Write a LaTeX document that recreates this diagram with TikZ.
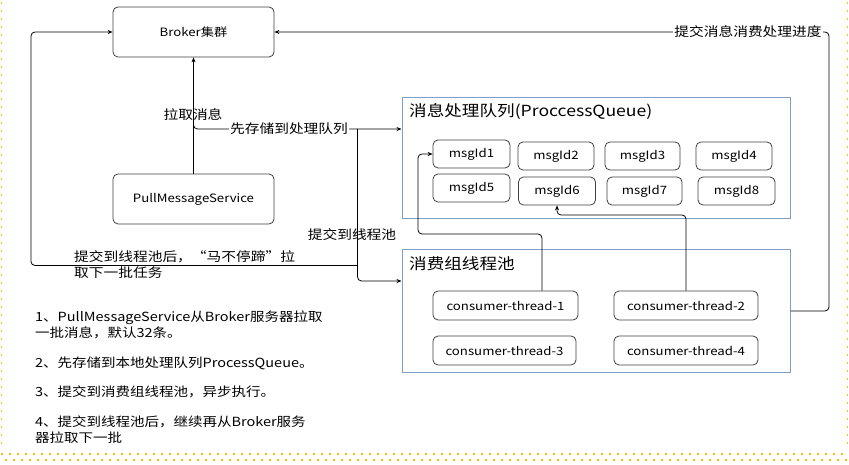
\documentclass[tikz,border=0pt]{standalone}
\usepackage{fontspec}
\setmainfont[FakeStretch=1.15]{Noto Sans CJK SC}
\usetikzlibrary{arrows.meta}
\definecolor{grpblue}{HTML}{7F9FC4}
\definecolor{dotyellow}{HTML}{FFC000}
\definecolor{boxline}{HTML}{404040}
\newcommand{\fsbox}{\fontsize{11.5}{13}\selectfont}
\newcommand{\fslbl}{\fontsize{12.8}{16}\selectfont}
\newcommand{\fsttl}{\fontsize{15.3}{18}\selectfont}
\newcommand{\fsnote}{\fontsize{12.6}{16}\selectfont}
\begin{document}
\begin{tikzpicture}[x=1pt,y=-1pt,
  box/.style={draw=boxline, line width=0.8pt, rounded corners=5pt, fill=white, inner sep=0pt, font=\fsbox},
  grp/.style={draw=grpblue, line width=1pt, inner sep=0pt},
  arr/.style={draw=black, line width=0.8pt, -{Stealth[length=5pt,width=4pt]}, rounded corners=4pt},
  lbl/.style={font=\fslbl, inner sep=1pt},
  ttl/.style={font=\fsttl, anchor=west, inner sep=0pt},
  note/.style={font=\fsnote, anchor=west, align=left, inner sep=0pt},
  ydot/.style={draw=dotyellow, line width=1.6pt, dash pattern=on 1.6pt off 6.4pt}]
\useasboundingbox (0,0) rectangle (849,465);
\fill[white] (0,0) rectangle (849,465);
% yellow dotted frame
\draw[ydot] (1.5,2) -- (1.5,450);
\draw[ydot] (847.5,2) -- (847.5,450);
\draw[ydot] (1,454) -- (849,454);
\draw[ydot] (5,460) -- (849,460);
% group boxes
\node[grp, minimum width=388pt, minimum height=121pt] (queue) at (596,158.5) {};
\node[grp, minimum width=388pt, minimum height=122pt] (pool) at (596,311) {};
\node[ttl] (qtitle) at (409,111) {消息处理队列(ProccessQueue)};
\node[ttl] (ptitle) at (409,264) {消费组线程池};
% main boxes
\node[box, minimum width=161pt, minimum height=50pt] (broker) at (193.5,32) {Broker集群};
\node[box, minimum width=161pt, minimum height=50pt] (pms) at (193.5,199) {PullMessageService};
% messages
\node[box, minimum width=77pt, minimum height=28pt] (m1) at (471.5,154) {msgId1};
\node[box, minimum width=76pt, minimum height=28pt] (m2) at (556,156) {msgId2};
\node[box, minimum width=75pt, minimum height=28pt] (m3) at (642.5,156) {msgId3};
\node[box, minimum width=76pt, minimum height=28pt] (m4) at (734,156) {msgId4};
\node[box, minimum width=77pt, minimum height=28pt] (m5) at (471.5,188) {msgId5};
\node[box, minimum width=77pt, minimum height=28pt] (m6) at (557,191) {msgId6};
\node[box, minimum width=75pt, minimum height=28pt] (m7) at (644.5,191) {msgId7};
\node[box, minimum width=77pt, minimum height=28pt] (m8) at (736.5,191) {msgId8};
% threads
\node[box, minimum width=145pt, minimum height=29pt] (ct1) at (505.5,305.5) {consumer-thread-1};
\node[box, minimum width=144pt, minimum height=29pt] (ct2) at (686,305.5) {consumer-thread-2};
\node[box, minimum width=143pt, minimum height=29pt] (ct3) at (504.5,350.5) {consumer-thread-3};
\node[box, minimum width=144pt, minimum height=29pt] (ct4) at (686,350.5) {consumer-thread-4};
% helper coordinates
\coordinate (sj) at (193.5,119);
\coordinate (sy) at (0,129);
\coordinate (tj) at (357.5,129);
\coordinate (py) at (0,281);
\coordinate (lj) at (357.5,265.5);
\coordinate (lc) at (31,32);
\coordinate (b1) at (542,234);
\coordinate (b2) at (418,234);
\coordinate (c2) at (600,215);
\coordinate (rc) at (829,32);
% connectors
\draw[arr] (pms.north) -- (broker.south);
\node[lbl] (lpull) at (193,115) {拉取消息};
\draw[arr] (sj) |- (queue.west |- sy);
\node[lbl, fill=white] (lstore) at (289,129) {先存储到处理队列};
\draw[arr] (tj) |- (pool.west |- py);
\node[lbl] (lsubmit) at (352,235) {提交到线程池};
\draw[arr] (lj) -| (lc) -- (broker.west);
\node[lbl, anchor=north west, align=left, inner sep=0pt] (lloop) at (74,250) {提交到线程池后，“马不停蹄”拉\\取下一批任务};
\draw[arr] (b1 |- ct1.north) -- (b1) -- (b2) |- (m1.west);
\draw[arr] (ct2.north) |- (c2) -| (m6.south);
\draw[arr] (pool.east) -| (rc) -- (broker.east);
\node[lbl, fill=white] (lprog) at (748,32) {提交消息消费处理进度};
% notes
\node[note] (n1) at (35,325) {1、PullMessageService从Broker服务器拉取\\一批消息，默认32条。};
\node[note] (n2) at (35,363) {2、先存储到本地处理队列ProcessQueue。};
\node[note] (n3) at (35,392) {3、提交到消费组线程池，异步执行。};
\node[note] (n4) at (35,429.5) {4、提交到线程池后，继续再从Broker服务\\器拉取下一批};
\end{tikzpicture}
\end{document}
